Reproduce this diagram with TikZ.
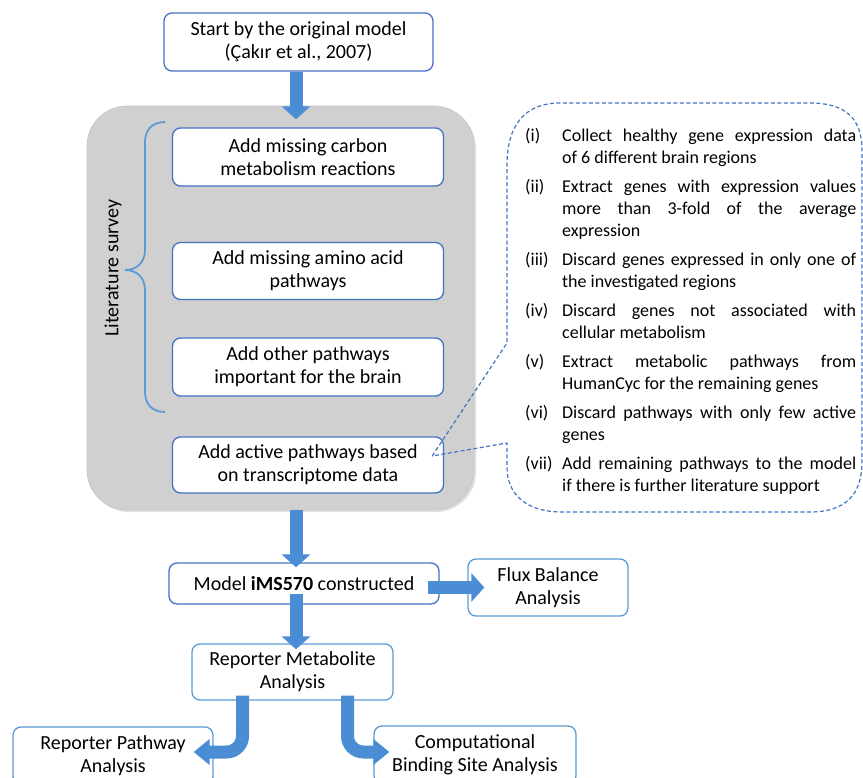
\documentclass[tikz,border=0pt]{standalone}
\usepackage{fontspec}
\setmainfont{Carlito}
\usetikzlibrary{positioning, arrows.meta, calc, fit, shadows}
\definecolor{boxnavy}{RGB}{68, 114, 196}
\definecolor{boxsky}{RGB}{91, 155, 213}
\definecolor{arrowsky}{RGB}{74, 141, 212}
\definecolor{surveygray}{RGB}{208, 208, 208}
\newcommand{\stepitem}[2]{\par\noindent\hangindent=37pt\hangafter=1\makebox[37pt][l]{#1}#2\par}
\tikzset{
  stepbox/.style={
    draw=boxnavy,
    line width=1.3pt,
    fill=white,
    rounded corners=8pt,
    align=center,
    inner sep=2pt,
    font=\fontsize{20}{23}\selectfont
  },
  resultbox/.style={
    stepbox,
    draw=boxsky
  },
  fatarrow/.style={
    line width=13pt,
    draw=arrowsky,
    -{Triangle[width=28pt,length=13pt]}
  },
  bentarrow/.style={
    line width=13pt,
    draw=arrowsky,
    rounded corners=16pt,
    -{Triangle[width=25pt,length=16pt]}
  },
  callout/.style={
    draw=boxnavy,
    line width=1.2pt,
    dash pattern=on 4pt off 2.5pt
  },
  surveybg/.style={
    fill=surveygray,
    draw=black!22,
    line width=0.6pt,
    rounded corners=40pt,
    inner sep=0pt,
    drop shadow={opacity=0.25, shadow xshift=2pt, shadow yshift=-2pt}
  },
  steplist/.style={
    text width=331pt,
    align=justify,
    inner sep=0pt,
    font=\fontsize{18}{22}\selectfont
  }
}

\begin{document}
\begin{tikzpicture}[x=1pt, y=-1pt]
  \useasboundingbox (0,0) rectangle (863,778);
  \coordinate (spine) at (296,0);

  % Start
  \node[stepbox, minimum width=269pt, minimum height=58pt] (start) at (298.5,42) {Start by the original model\\(Çakır et al., 2007)};

  % Literature survey block
  \node[surveybg, fit={(87,106) (474,510)}] (survey) {};
  \node[stepbox, minimum width=271pt, minimum height=58pt] (carbon) at (308,157) {Add missing carbon\\metabolism reactions};
  \node[stepbox, minimum width=271pt, minimum height=57pt] (amino) at (308,271) {Add missing amino acid\\pathways};
  \node[stepbox, minimum width=271pt, minimum height=58pt] (other) at (308,367) {Add other pathways\\important for the brain};
  \node[stepbox, minimum width=271pt, minimum height=56pt] (active) at (308,465) {Add active pathways based\\on transcriptome data};
  \node[rotate=90, font=\fontsize{20}{23}\selectfont] (litlabel) at (113,268) {Literature survey};
  \draw[boxsky, line width=1.8pt] (165,122) .. controls (152,122) and (145,130) .. (145,142) -- (145,250)
    .. controls (145,262) and (137,270) .. (125,270) .. controls (137,270) and (145,278) .. (145,290)
    -- (145,392) .. controls (145,404) and (152,412) .. (165,412);

  % Callout with transcriptome steps
  \coordinate (tip) at ($(active.east)+(-12,-9)$);
  \draw[callout] (tip) -- (507,343) -- (507,165) .. controls (507,125) and (525,103) .. (560,103)
    -- (810,103) .. controls (845,103) and (862,118) .. (862,150) -- (862,462)
    .. controls (862,495) and (845,512) .. (810,512) -- (562,512)
    .. controls (527,512) and (507,495) .. (507,467) -- (507,443) -- cycle;
  \node[steplist, anchor=north west] (steps) at (525,112) {%
    \setlength{\parskip}{7pt}\hyphenpenalty=10000
    \stepitem{(i)}{Collect healthy gene expression data\linebreak of 6 different brain regions}
    \stepitem{(ii)}{Extract genes with expression values\linebreak more than 3-fold of the average\linebreak expression}
    \stepitem{(iii)}{Discard genes expressed in only one of\linebreak the investigated regions}
    \stepitem{(iv)}{Discard genes not associated with\linebreak cellular metabolism}
    \stepitem{(v)}{Extract metabolic pathways from\linebreak HumanCyc for the remaining genes}
    \stepitem{(vi)}{Discard pathways with only few active\linebreak genes}
    \stepitem{(vii)}{Add remaining pathways to the model\linebreak if there is further literature support}};

  % Model and analyses
  \node[stepbox, minimum width=270pt, minimum height=41pt] (model) at (304,583.5) {Model \textbf{iMS570} constructed};
  \node[resultbox, minimum width=160pt, minimum height=57pt] (flux) at (548,587.5) {Flux Balance\\Analysis};
  \node[resultbox, minimum width=201pt, minimum height=56pt] (rma) at (292.5,672) {Reporter Metabolite\\Analysis};
  \node[resultbox, minimum width=200pt, minimum height=58pt] (rpa) at (113,756) {Reporter Pathway\\Analysis};
  \node[resultbox, minimum width=202pt, minimum height=58pt] (cbs) at (475,755) {Computational\\Binding Site Analysis};

  % Arrows
  \draw[fatarrow, shorten >=8pt] (start.south -| spine) -- (carbon.north -| spine);
  \draw[fatarrow, shorten >=-5pt] (survey.south -| spine) -- (model.north -| spine);
  \draw[fatarrow, shorten <=-11pt, shorten >=-6pt] (model.south -| spine) -- (rma.north -| spine);
  \draw[fatarrow, shorten <=-12pt, shorten >=-17pt] (model.east |- flux.west) -- (flux.west);
  \draw[bentarrow] ([xshift=-50pt, yshift=5pt]rma.south) |- ([xshift=-20pt, yshift=4pt]rpa.east);
  \draw[bentarrow] ([xshift=55pt, yshift=5pt]rma.south) |- ([xshift=16pt, yshift=3pt]cbs.west);
\end{tikzpicture}
\end{document}
